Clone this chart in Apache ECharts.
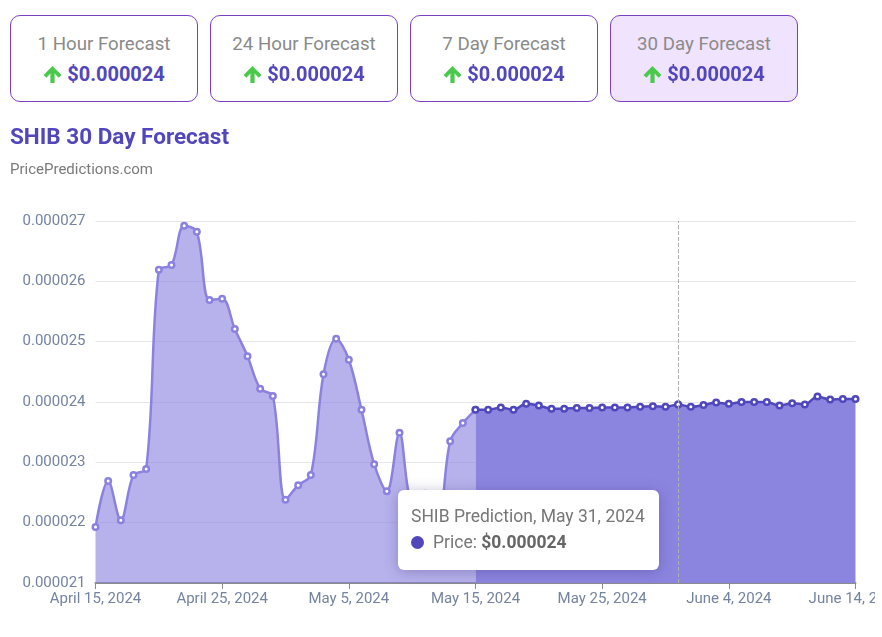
<!DOCTYPE html>
<html>
<head>
<meta charset="utf-8">
<script src="https://cdn.jsdelivr.net/npm/echarts@6/dist/echarts.min.js"></script>
<style>
  html, body { margin: 0; padding: 0; background: #fff; overflow: hidden; }
  body { width: 882px; height: 637px; position: relative; font-family: Roboto, sans-serif; }
  #chart { position: absolute; left: 0; top: 0; width: 875px; height: 637px; overflow: hidden; }
  .card {
    position: absolute; top: 15px; width: 186px; height: 85px;
    border: 1px solid #7b3fc4; border-radius: 10px; background: #fff;
    text-align: center; z-index: 2;
  }
  .card.active { background: #f0e3fd; }
  .card .name { margin-top: 17px; font-size: 18.7px; line-height: 22px; color: #8a8a8a; }
  .card .value { margin-top: 6px; font-size: 20px; line-height: 26px; font-weight: 700; color: #5147bd; }
  .card svg { width: 19px; height: 19px; vertical-align: -3px; margin-right: 5px; }
</style>
</head>
<body>
<div id="chart"></div>
<div id="cards"></div>
<script>
const cardNames = ['1 Hour Forecast', '24 Hour Forecast', '7 Day Forecast', '30 Day Forecast'];
const cardValues = ['$0.000024', '$0.000024', '$0.000024', '$0.000024'];
const cardLeft = [10, 210, 410, 610];

const dates = [
  'April 15, 2024','April 16, 2024','April 17, 2024','April 18, 2024','April 19, 2024','April 20, 2024',
  'April 21, 2024','April 22, 2024','April 23, 2024','April 24, 2024','April 25, 2024','April 26, 2024',
  'April 27, 2024','April 28, 2024','April 29, 2024','April 30, 2024','May 1, 2024','May 2, 2024',
  'May 3, 2024','May 4, 2024','May 5, 2024','May 6, 2024','May 7, 2024','May 8, 2024','May 9, 2024',
  'May 10, 2024','May 11, 2024','May 12, 2024','May 13, 2024','May 14, 2024','May 15, 2024','May 16, 2024',
  'May 17, 2024','May 18, 2024','May 19, 2024','May 20, 2024','May 21, 2024','May 22, 2024','May 23, 2024',
  'May 24, 2024','May 25, 2024','May 26, 2024','May 27, 2024','May 28, 2024','May 29, 2024','May 30, 2024',
  'May 31, 2024','June 1, 2024','June 2, 2024','June 3, 2024','June 4, 2024','June 5, 2024','June 6, 2024',
  'June 7, 2024','June 8, 2024','June 9, 2024','June 10, 2024','June 11, 2024','June 12, 2024','June 13, 2024',
  'June 14, 2024'
];

// price history up to May 15, then the forecast
const history = [
  0.00002193, 0.00002269, 0.00002204, 0.00002279, 0.00002289, 0.00002619, 0.00002627, 0.00002692,
  0.00002682, 0.00002569, 0.00002571, 0.00002521, 0.00002476, 0.00002422, 0.00002410, 0.00002238,
  0.00002262, 0.00002279, 0.00002446, 0.00002505, 0.00002470, 0.00002387, 0.00002297, 0.00002252,
  0.00002349, 0.00002240, 0.00002248, 0.00002195, 0.00002335, 0.00002365, 0.00002387
];
const forecast = [
  0.00002387, 0.00002387, 0.00002391, 0.00002387, 0.00002397, 0.00002394, 0.00002389, 0.00002389,
  0.00002390, 0.00002390, 0.00002391, 0.00002391, 0.00002391, 0.00002392, 0.00002393, 0.00002392,
  0.00002396, 0.00002392, 0.00002395, 0.00002399, 0.00002397, 0.00002400, 0.00002400, 0.00002400,
  0.00002394, 0.00002398, 0.00002396, 0.00002409, 0.00002404, 0.00002405, 0.00002405
];
const historyPad = new Array(30).fill(null);

document.getElementById('cards').innerHTML = cardNames.map((name, i) =>
  '<div class="card' + (i === 3 ? ' active' : '') + '" style="left:' + cardLeft[i] + 'px">' +
  '<div class="name">' + name + '</div>' +
  '<div class="value"><svg viewBox="0 0 18 18"><path d="M9 1 L17.5 9.5 L14.8 12 L11 8 L11 17 L7 17 L7 8 L3.2 12 L0.5 9.5 Z" fill="#4cc94c"/></svg>' + cardValues[i] + '</div>' +
  '</div>').join('');

const chart = echarts.init(document.getElementById('chart'));

function lineSeries(name, data, lineColor, areaColor, z) {
  return {
    name: name,
    type: 'line',
    data: data,
    z: z,
    smooth: 0.35,
    connectNulls: false,
    symbol: 'circle',
    symbolSize: 5.5,
    showAllSymbols: true,
    showSymbol: true,
    lineStyle: { color: lineColor, width: 2.5 },
    itemStyle: { color: '#fff', borderColor: lineColor, borderWidth: 2.5 },
    areaStyle: { color: areaColor, opacity: 1, origin: 'start' },
    emphasis: { disabled: true }
  };
}

chart.setOption({
  animation: false,
  textStyle: { fontFamily: 'Roboto' },
  title: {
    text: 'SHIB 30 Day Forecast',
    subtext: 'PricePredictions.com',
    left: 10,
    top: 127,
    itemGap: 13,
    padding: 0,
    textStyle: { color: '#5147bd', fontSize: 22.5, fontWeight: 700, fontFamily: 'Roboto' },
    subtextStyle: { color: '#7a7a7a', fontSize: 15, fontFamily: 'Roboto' }
  },
  grid: { left: 95.5, right: 19.5, top: 221, bottom: 54, outerBoundsMode: 'none' },
  tooltip: {
    trigger: 'axis',
    alwaysShowContent: true,
    transitionDuration: 0,
    position: [398, 490],
    backgroundColor: '#fff',
    borderWidth: 0,
    padding: 0,
    extraCssText: 'border-radius:6px;box-shadow:0 2px 14px rgba(60,50,120,0.35);width:261px;height:80px;box-sizing:border-box;padding:14px 13px;',
    axisPointer: { type: 'line', lineStyle: { color: '#b0b0b0', type: 'dashed', width: 1 }, z: 5 },
    formatter: function (params) {
      const p = params[params.length - 1];
      return '<div style="font:17.5px/24px Roboto;color:#777">SHIB Prediction, ' + p.name + '</div>' +
        '<div style="font:17.5px/28px Roboto;color:#777"><span style="display:inline-block;width:13px;height:13px;border-radius:50%;background:#5147bd;margin:0 9px 0 0;vertical-align:-1px"></span>Price: ' +
        '<b style="color:#666">$' + p.value.toFixed(6) + '</b></div>';
    }
  },
  xAxis: {
    type: 'category',
    data: dates,
    boundaryGap: false,
    axisLine: { lineStyle: { color: '#8c8c8c', width: 2 } },
    axisTick: { show: true, interval: 9, length: 6, lineStyle: { color: '#8c8c8c', width: 1 } },
    axisLabel: { interval: 9, color: '#74839f', fontSize: 15, margin: 9, hideOverlap: false, showMaxLabel: true },
    splitLine: { show: false }
  },
  yAxis: {
    type: 'value',
    min: 0.000021,
    max: 0.000027,
    interval: 0.000001,
    axisLine: { show: false },
    axisTick: { show: false },
    axisLabel: { color: '#74839f', fontSize: 15, margin: 10, formatter: function (v) { return v.toFixed(6); } },
    splitLine: { lineStyle: { color: '#e6e6ea', width: 1 } }
  },
  series: [
    lineSeries('Price', history, '#8b82e0', 'rgba(139,130,224,0.62)', 2),
    lineSeries('Prediction', historyPad.concat(forecast), '#5147bd', '#8c85e0', 3)
  ]
});

chart.dispatchAction({ type: 'showTip', seriesIndex: 1, dataIndex: 46 });
</script>
</body>
</html>
